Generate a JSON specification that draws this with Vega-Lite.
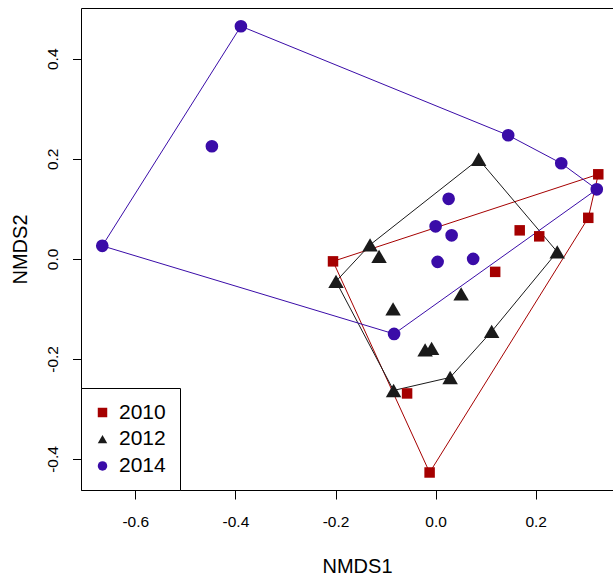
{
  "$schema": "https://vega.github.io/schema/vega-lite/v6.json",
  "autosize": {"type": "none"},
  "padding": {"left": 81, "top": 8, "right": 0, "bottom": 85},
  "width": 532,
  "height": 482,
  "background": "white",
  "config": {
    "view": {"stroke": null},
    "font": "Liberation Sans"
  },
  "datasets": {
    "points": [
      {"year": "2010", "NMDS1": -0.205, "NMDS2": -0.005},
      {"year": "2010", "NMDS1": 0.325, "NMDS2": 0.169},
      {"year": "2010", "NMDS1": 0.305, "NMDS2": 0.082},
      {"year": "2010", "NMDS1": 0.168, "NMDS2": 0.057},
      {"year": "2010", "NMDS1": 0.207, "NMDS2": 0.045},
      {"year": "2010", "NMDS1": 0.119, "NMDS2": -0.026},
      {"year": "2010", "NMDS1": -0.057, "NMDS2": -0.269},
      {"year": "2010", "NMDS1": -0.012, "NMDS2": -0.427},
      {"year": "2012", "NMDS1": 0.086, "NMDS2": 0.199},
      {"year": "2012", "NMDS1": 0.243, "NMDS2": 0.014},
      {"year": "2012", "NMDS1": -0.131, "NMDS2": 0.028},
      {"year": "2012", "NMDS1": -0.113, "NMDS2": 0.005},
      {"year": "2012", "NMDS1": -0.199, "NMDS2": -0.045},
      {"year": "2012", "NMDS1": -0.085, "NMDS2": -0.1},
      {"year": "2012", "NMDS1": 0.051, "NMDS2": -0.07},
      {"year": "2012", "NMDS1": -0.021, "NMDS2": -0.182},
      {"year": "2012", "NMDS1": -0.008, "NMDS2": -0.179},
      {"year": "2012", "NMDS1": 0.112, "NMDS2": -0.145},
      {"year": "2012", "NMDS1": 0.029, "NMDS2": -0.237},
      {"year": "2012", "NMDS1": -0.084, "NMDS2": -0.263},
      {"year": "2014", "NMDS1": -0.389, "NMDS2": 0.465},
      {"year": "2014", "NMDS1": -0.447, "NMDS2": 0.225},
      {"year": "2014", "NMDS1": 0.145, "NMDS2": 0.247},
      {"year": "2014", "NMDS1": 0.251, "NMDS2": 0.191},
      {"year": "2014", "NMDS1": 0.322, "NMDS2": 0.139},
      {"year": "2014", "NMDS1": 0.026, "NMDS2": 0.12},
      {"year": "2014", "NMDS1": 0.0, "NMDS2": 0.065},
      {"year": "2014", "NMDS1": 0.032, "NMDS2": 0.047},
      {"year": "2014", "NMDS1": 0.004, "NMDS2": -0.006},
      {"year": "2014", "NMDS1": 0.075, "NMDS2": 0.0},
      {"year": "2014", "NMDS1": -0.083, "NMDS2": -0.15},
      {"year": "2014", "NMDS1": -0.666, "NMDS2": 0.026}
    ],
    "hulls": [
      {"year": "2010", "i": 1, "NMDS1": -0.205, "NMDS2": -0.005},
      {"year": "2010", "i": 2, "NMDS1": 0.325, "NMDS2": 0.169},
      {"year": "2010", "i": 3, "NMDS1": 0.305, "NMDS2": 0.082},
      {"year": "2010", "i": 4, "NMDS1": -0.012, "NMDS2": -0.427},
      {"year": "2010", "i": 5, "NMDS1": -0.205, "NMDS2": -0.005},
      {"year": "2012", "i": 1, "NMDS1": 0.086, "NMDS2": 0.199},
      {"year": "2012", "i": 2, "NMDS1": 0.243, "NMDS2": 0.014},
      {"year": "2012", "i": 3, "NMDS1": 0.112, "NMDS2": -0.145},
      {"year": "2012", "i": 4, "NMDS1": 0.029, "NMDS2": -0.237},
      {"year": "2012", "i": 5, "NMDS1": -0.084, "NMDS2": -0.263},
      {"year": "2012", "i": 6, "NMDS1": -0.199, "NMDS2": -0.045},
      {"year": "2012", "i": 7, "NMDS1": -0.131, "NMDS2": 0.028},
      {"year": "2012", "i": 8, "NMDS1": 0.086, "NMDS2": 0.199},
      {"year": "2014", "i": 1, "NMDS1": -0.389, "NMDS2": 0.465},
      {"year": "2014", "i": 2, "NMDS1": 0.145, "NMDS2": 0.247},
      {"year": "2014", "i": 3, "NMDS1": 0.251, "NMDS2": 0.191},
      {"year": "2014", "i": 4, "NMDS1": 0.322, "NMDS2": 0.139},
      {"year": "2014", "i": 5, "NMDS1": -0.083, "NMDS2": -0.15},
      {"year": "2014", "i": 6, "NMDS1": -0.666, "NMDS2": 0.026},
      {"year": "2014", "i": 7, "NMDS1": -0.389, "NMDS2": 0.465}
    ]
  },
  "resolve": {"axis": {"x": "independent"}},
  "layer": [
    {
      "data": {"name": "hulls"},
      "mark": {"type": "line", "strokeWidth": 1, "interpolate": "linear"},
      "encoding": {
        "x": {
          "field": "NMDS1", "type": "quantitative",
          "scale": {"domain": [-0.7085, 0.3544], "nice": false, "zero": false},
          "axis": {"orient": "top", "labels": false, "ticks": false, "title": null, "grid": false, "domain": true, "domainColor": "black", "domainWidth": 1}
        },
        "y": {
          "field": "NMDS2", "type": "quantitative",
          "scale": {"domain": [-0.462, 0.5014], "nice": false, "zero": false}
        },
        "order": {"field": "i", "type": "quantitative"},
        "detail": {"field": "year", "type": "nominal"},
        "stroke": {
          "field": "year", "type": "nominal",
          "scale": {"domain": ["2010", "2012", "2014"], "range": ["#a50000", "#1a1a1a", "#3a0ca8"]}
        }
      }
    },
    {
      "data": {"name": "points"},
      "transform": [{"filter": "datum.year == '2010'"}],
      "mark": {"type": "point", "filled": true, "opacity": 1, "strokeWidth": 0, "size": 110},
      "encoding": {
        "x": {
          "field": "NMDS1", "type": "quantitative",
          "scale": {"domain": [-0.7085, 0.3544], "nice": false, "zero": false},
          "axis": {
            "orient": "bottom",
            "values": [-0.6, -0.4, -0.2, 0, 0.2],
            "labelExpr": "datum.value < 0 ? '-' + format(-datum.value, '.1f') : format(datum.value, '.1f')",
            "grid": false,
            "domain": true, "domainColor": "black", "domainWidth": 1,
            "ticks": true, "tickColor": "black", "tickSize": 9, "tickWidth": 1,
            "labelFontSize": 15.5, "labelColor": "black", "labelFont": "Liberation Sans",
            "labelBaseline": "alphabetic", "labelPadding": 27.5, "labelFlush": false, "labelOverlap": false,
            "title": "NMDS1", "titleFontSize": 20, "titleFontWeight": "normal", "titleColor": "black", "titleFont": "Liberation Sans",
            "titleX": 276, "titleY": 82, "titleAlign": "center", "titleBaseline": "alphabetic", "titleAnchor": null
          }
        },
        "y": {
          "field": "NMDS2", "type": "quantitative",
          "scale": {"domain": [-0.462, 0.5014], "nice": false, "zero": false},
          "axis": {
            "values": [-0.4, -0.2, 0, 0.2, 0.4],
            "labelExpr": "datum.value < 0 ? '-' + format(-datum.value, '.1f') : format(datum.value, '.1f')",
            "grid": false,
            "domain": true, "domainColor": "black", "domainWidth": 1,
            "ticks": true, "tickColor": "black", "tickSize": 8.5, "tickWidth": 1,
            "labelFontSize": 15.5, "labelColor": "black", "labelFont": "Liberation Sans",
            "labelAngle": -90, "labelAlign": "center", "labelBaseline": "alphabetic", "labelPadding": 15,
            "labelFlush": false, "labelOverlap": false,
            "title": "NMDS2", "titleFontSize": 20, "titleFontWeight": "normal", "titleColor": "black", "titleFont": "Liberation Sans",
            "titleAngle": -90, "titleX": -55, "titleY": 241, "titleAlign": "center", "titleBaseline": "alphabetic", "titleAnchor": null
          }
        },
        "color": {
          "field": "year", "type": "nominal",
          "scale": {"domain": ["2010", "2012", "2014"], "range": ["#a50000", "#1a1a1a", "#3a0ca8"]},
          "legend": {
            "title": null, "orient": "bottom-left", "offset": 0,
            "strokeColor": "black", "fillColor": "white", "padding": 14,
            "labelFontSize": 21, "labelFont": "Liberation Sans", "labelColor": "black",
            "symbolSize": 90, "symbolStrokeWidth": 0, "symbolOpacity": 1, "rowPadding": 4.7,
            "symbolOffset": -3, "labelOffset": 6
          }
        },
        "shape": {
          "field": "year", "type": "nominal",
          "scale": {"domain": ["2010", "2012", "2014"], "range": ["square", "triangle-up", "circle"]}
        }
      }
    },
    {
      "data": {"name": "points"},
      "transform": [{"filter": "datum.year == '2012'"}],
      "mark": {"type": "point", "filled": true, "opacity": 1, "strokeWidth": 0, "size": 240},
      "encoding": {
        "x": {"field": "NMDS1", "type": "quantitative", "axis": null},
        "y": {"field": "NMDS2", "type": "quantitative"},
        "color": {"field": "year", "type": "nominal"},
        "shape": {"field": "year", "type": "nominal"}
      }
    },
    {
      "data": {"name": "points"},
      "transform": [{"filter": "datum.year == '2014'"}],
      "mark": {"type": "point", "filled": true, "opacity": 1, "strokeWidth": 0, "size": 160},
      "encoding": {
        "x": {"field": "NMDS1", "type": "quantitative", "axis": null},
        "y": {"field": "NMDS2", "type": "quantitative"},
        "color": {"field": "year", "type": "nominal"},
        "shape": {"field": "year", "type": "nominal"}
      }
    }
  ]
}
